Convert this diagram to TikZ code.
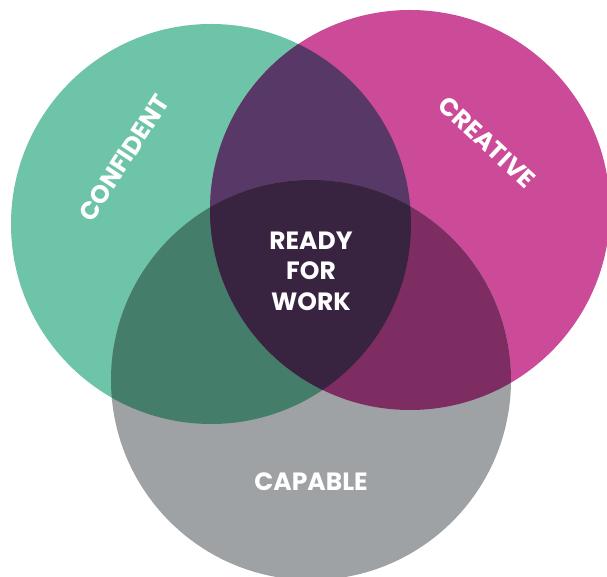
\documentclass[tikz,border=0pt]{standalone}
\usepackage{fontspec}
\setmainfont{Poppins}
\definecolor{confgreen}{HTML}{6EC4A8}
\definecolor{creapink}{HTML}{CC4B98}
\definecolor{capgray}{HTML}{9FA2A4}
\definecolor{greenpink}{HTML}{573866}
\definecolor{greengray}{HTML}{457D6B}
\definecolor{pinkgray}{HTML}{7E2D63}
\definecolor{readycol}{HTML}{382340}
\tikzset{
  label/.style={text=white, font=\bfseries\fontsize{25}{30.5}\selectfont, align=center, inner sep=0pt}
}
\begin{document}
\begin{tikzpicture}[x=1pt, y=1pt]
  \useasboundingbox (0,0) rectangle (607,577);
  \clip (0,0) rectangle (607,577);

  \coordinate (conf) at (211,353);
  \coordinate (crea) at (410,367);
  \coordinate (capa) at (311,197);

  \fill[confgreen] (conf) circle (200);
  \fill[creapink] (crea) circle (200);
  \fill[capgray] (capa) circle (200);

  \begin{scope}
    \clip (conf) circle (200);
    \fill[greenpink] (crea) circle (200);
    \fill[greengray] (capa) circle (200);
  \end{scope}
  \begin{scope}
    \clip (crea) circle (200);
    \fill[pinkgray] (capa) circle (200);
  \end{scope}
  \begin{scope}
    \clip (conf) circle (200);
    \clip (crea) circle (200);
    \fill[readycol] (capa) circle (200);
  \end{scope}

  \node (confident) [label, rotate=57] at (124,419) {CONFIDENT};
  \node (creative) [label, rotate=-43] at (487,435) {CREATIVE};
  \node (ready) [label] at (311,306) {READY\\FOR\\WORK};
  \node (capable) [label] at (311,95) {CAPABLE};
\end{tikzpicture}
\end{document}
